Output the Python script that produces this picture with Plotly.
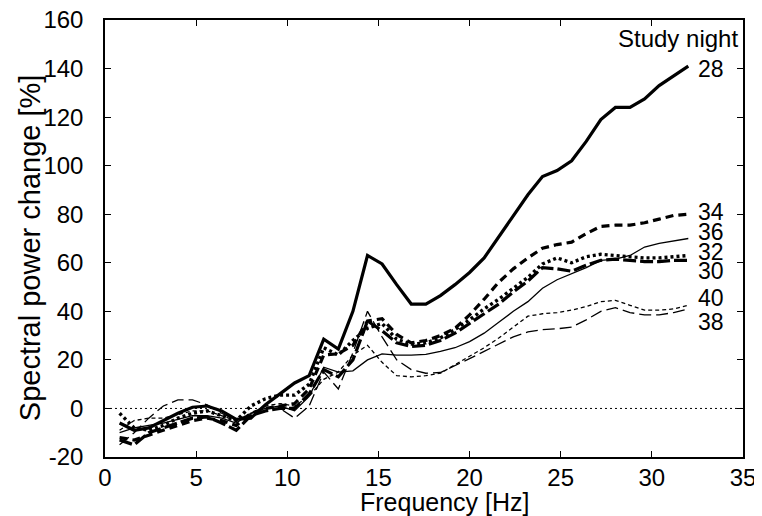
import plotly.graph_objects as go

# Frequency bins (Hz)
freq = [0.8, 1.6, 2.4, 3.2, 4.0, 4.8, 5.6, 6.4, 7.2, 8.0,
        8.8, 9.6, 10.4, 11.2, 12.0, 12.8, 13.6, 14.4, 15.2, 16.0,
        16.8, 17.6, 18.4, 19.2, 20.0, 20.8, 21.6, 22.4, 23.2, 24.0,
        24.8, 25.6, 26.4, 27.2, 28.0, 28.8, 29.6, 30.4, 31.2, 32.0]

# Spectral power change [%] per study night
night28 = [-6, -9, -8, -5, -2, 0.5, 1, -1, -4.5, -4,
           1.5, 6, 10.5, 13.5, 28.5, 24.5, 40, 63, 59.5, 51,
           43, 43, 46.5, 51, 56, 62, 70.5, 79.5, 88, 95.5,
           98, 102, 110, 119, 124, 124, 127.5, 133, 137, 141]
night34 = [-12, -13, -11, -9, -7, -5, -4, -5, -7, -2,
           0, 1, 2, 8, 22, 22.5, 26, 36, 37, 30.5,
           27, 28, 30, 33, 38.5, 45, 52, 57.5, 62, 66,
           67.5, 68.5, 72, 75, 75.5, 75.5, 76.5, 78, 79.5, 80]
night36 = [-10, -8, -7, -6, -4.5, -3, -3, -4, -6, -2,
           0, 1, -1, 5, 17, 15, 15.5, 20, 22.5, 22,
           22, 22.3, 23.5, 25, 27.5, 31, 35.5, 40, 44, 49.5,
           53, 55.5, 58, 61, 61.5, 63, 66.5, 68, 69, 70]
night32 = [-2, -8, -9, -7, -4, -2, -1, -3, -5, 1,
           4, 5.5, 5.5, 10, 25, 22, 28, 33, 35, 28.5,
           26.5, 27, 29, 32.5, 36.5, 41, 45, 49.5, 54, 59.5,
           62, 60, 62.5, 63.5, 63, 62.5, 62, 62, 62.5, 63]
night30 = [-13, -15, -10, -8, -6, -4, -3.5, -6, -9, -3,
           -1, 0, 0, 6, 16, 13, 20, 36, 32, 27,
           25.5, 26, 28, 31, 35, 39, 43, 48, 52.5, 58,
           57.5, 56.5, 59, 61, 61.5, 61, 60.5, 60.5, 61, 61]
night40 = [-9, -5, -4, -4, -2.5, -1, -1, -3, -5, -2,
           1, 2, 1, 5, 12, 15, 22, 26, 19, 13.5,
           13, 13.5, 14.5, 18, 21.5, 25, 29, 33.5, 38, 39,
           39.5, 40.5, 42, 44, 44.5, 42.5, 40.5, 40.5, 41, 42.5]
night38 = [-15, -10, -4, 1, 3.5, 3.5, 1.5, -2, -5, -2,
           0, 0, -4, 1, 15, 8, 23, 40, 29.5, 20,
           16, 14.5, 14.8, 17.5, 20.5, 23.5, 26.5, 29.5, 31.5, 32.5,
           32.8, 33.5, 36.5, 40, 41.5, 39.5, 38.5, 38.5, 39.5, 41]

series_names = ["28", "34", "36", "32", "30", "40", "38"]
series_values = [night28, night34, night36, night32, night30, night40, night38]

# tick values / labels
x_ticks = [0, 5, 10, 15, 20, 25, 30, 35]
y_ticks = [-20, 0, 20, 40, 60, 80, 100, 120, 140, 160]
y_ticktext = ["-20", "0", "20", "40", "60", "80", "100", "120", "140", "160"]

# styles (width, dash)
styles = {
    "28": (3.2, "solid"),
    "34": (3.2, "8px,5px"),
    "36": (1.3, "solid"),
    "32": (3.4, "3px,3px"),
    "30": (3.2, "13px,4px"),
    "40": (1.3, "4px,3px"),
    "38": (1.3, "12px,5px"),
}
# label vertical positions (data units) at the right end
label_y = [140, 81, 72.5, 64.5, 56.5, 45.5, 35.5]

FONT = "Liberation Sans, Arial, Helvetica, sans-serif"

fig = go.Figure()
for name, vals in zip(series_names, series_values):
    w, d = styles[name]
    fig.add_trace(go.Scatter(x=freq, y=vals, mode="lines", name=name,
                             line=dict(color="black", width=w, dash=d),
                             showlegend=False))

fig.add_shape(type="line", xref="paper", yref="y", x0=0, x1=1, y0=0, y1=0,
              line=dict(color="black", width=1, dash="2px,3px"))

for name, ly in zip(series_names, label_y):
    fig.add_annotation(x=32.4, y=ly, text=name, showarrow=False,
                       xanchor="left", yanchor="middle",
                       font=dict(family=FONT, size=23, color="black"))
fig.add_annotation(x=34.85, y=152.5, text="Study night", showarrow=False,
                   xanchor="right", yanchor="middle",
                   font=dict(family=FONT, size=24, color="black"))

# axis titles as annotations
fig.add_annotation(xref="paper", yref="paper", x=-0.1176, y=0.48,
                   text="Spectral power change [%]", textangle=-90,
                   showarrow=False, xanchor="center", yanchor="middle",
                   font=dict(family=FONT, size=29, color="black"))
fig.add_annotation(xref="paper", yref="paper", x=0.533, y=-0.103,
                   text="Frequency [Hz]", showarrow=False,
                   xanchor="center", yanchor="middle",
                   font=dict(family=FONT, size=25, color="black"))

axis_common = dict(showline=True, linecolor="black", linewidth=1.5,
                   mirror="ticks", ticks="inside", ticklen=6, tickwidth=1.2,
                   tickcolor="black", showgrid=False, zeroline=False,
                   automargin=False, ticklabeloverflow="allow",
                   tickfont=dict(family=FONT, size=24, color="black"))

fig.update_xaxes(range=[0, 35], tickmode="array", tickvals=x_ticks,
                 ticklabelstandoff=-2, **axis_common)
fig.update_yaxes(range=[-20, 160], tickmode="array", tickvals=y_ticks,
                 ticktext=y_ticktext, ticklabelstandoff=15,
                 **axis_common)

fig.update_layout(width=762, height=516, paper_bgcolor="white",
                  plot_bgcolor="white",
                  margin=dict(l=97, r=27, t=12, b=67))

fig.write_html("out.html")
